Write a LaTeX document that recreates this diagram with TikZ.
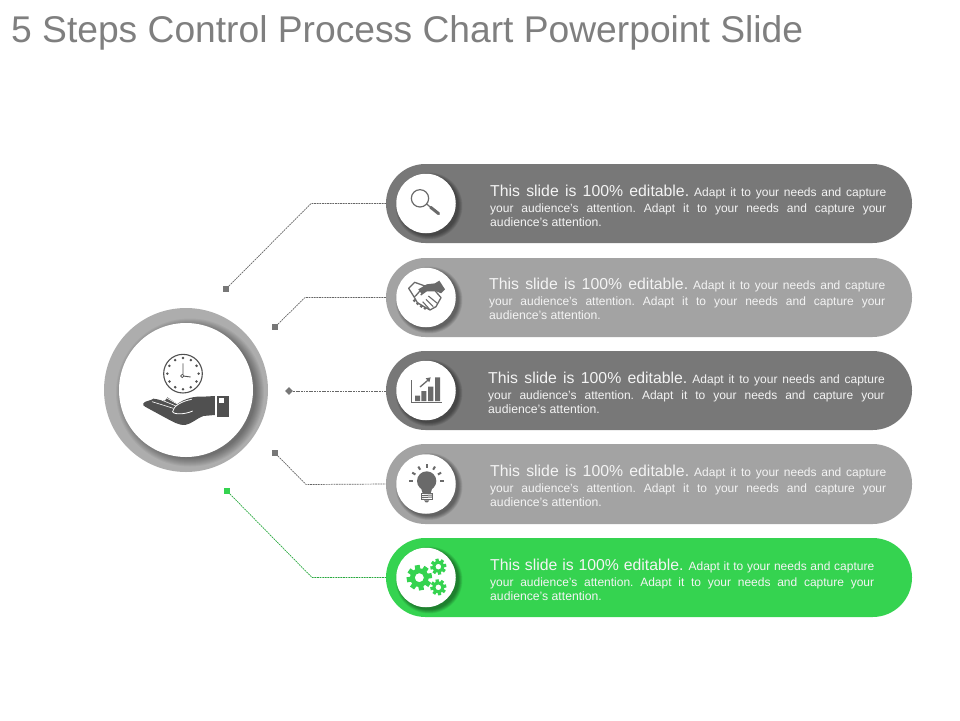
\documentclass[tikz,border=0pt]{standalone}
\usepackage{fontspec}
\setmainfont{Liberation Sans}
\usetikzlibrary{calc,shapes.geometric}
\definecolor{pilldark}{HTML}{787878}
\definecolor{pilllight}{HTML}{A3A3A3}
\definecolor{pillgreen}{HTML}{35D350}
\definecolor{hubicon}{HTML}{505050}
\definecolor{icongray}{HTML}{6A6A6A}
\definecolor{titlegray}{HTML}{7F7F7F}
\definecolor{ringgray}{HTML}{ADADAD}
\definecolor{linegray}{HTML}{666666}
\definecolor{markgray}{HTML}{777777}
\definecolor{textwhite}{HTML}{F4F4F4}
\tikzset{
  pill/.style={minimum width=526pt,minimum height=79pt,rounded corners=39.4pt,inner sep=0pt,outer sep=0pt},
  disc/.style={circle,fill=white,minimum size=59.5pt,inner sep=0pt,outer sep=0pt},
  marksq/.style={rectangle,fill=markgray,minimum size=5.5pt,inner sep=0pt},
  markdia/.style={diamond,fill=markgray,minimum size=8pt,inner sep=0pt},
  conn/.style={dash pattern=on 1.8pt off .8pt,line width=.7pt,draw=linegray},
  bodytext/.style={anchor=base west,inner sep=0pt,text=textwhite},
  zoomed/.style 2 args={shift={(#1,#2)},x=.3333pt,y=-.3333pt}
}
\newcommand{\slidelines}[1]{\vtop{\frenchspacing\baselineskip=14.5pt\hbox to #1{\fontsize{15.8}{16}\selectfont This slide is 100\% editable.\hskip 5pt\fontsize{12}{14}\selectfont Adapt it to your needs and capture}\kern1.2pt\hbox to #1{\fontsize{12}{14}\selectfont your audience's attention. Adapt it to your needs and capture your}\hbox{\fontsize{12.2}{14}\selectfont audience's attention.}}}
\newcommand{\discshadow}[2]{\foreach \rr in {33.5,33,32.5,32,31.5,31,30.5,30,29.5}{\fill[black,opacity=.05] (#1+3,#2+2.5) circle (\rr pt);}}
\newcommand{\gearicon}[4]{% x y outer-r teeth
  \fill[pillgreen,even odd rule] (#1,#2) circle (#3*0.74) (#1,#2) circle (#3*0.36);
  \foreach \a in {1,...,#4}{\fill[pillgreen,rotate around={\a*360/#4+10:(#1,#2)}] ($(#1,#2)+(-#3*0.2,-#3*1.0)$) rectangle ($(#1,#2)+(#3*0.2,-#3*0.6)$);}
}
\begin{document}
\begin{tikzpicture}[x=1pt,y=-1pt]
\useasboundingbox (0,0) rectangle (960,720);
\node[anchor=base west,inner sep=0pt,text=titlegray,font=\fontsize{37.2}{37}\selectfont] (title) at (11,42) {5 Steps Control Process Chart Powerpoint Slide};

% pills
\node[pill,fill=pilldark,anchor=center] (p1) at (649,203.5) {};
\node[pill,fill=pilllight,anchor=center] (p2) at (649,297.5) {};
\node[pill,fill=pilldark,anchor=center] (p3) at (649,390.5) {};
\node[pill,fill=pilllight,anchor=center,minimum height=80pt] (p4) at (649,484) {};
\node[pill,fill=pillgreen,anchor=center] (p5) at (649,577.5) {};

% discs
\discshadow{426}{203.5}\discshadow{426}{297.5}\discshadow{426}{390.5}\discshadow{426}{484}\discshadow{426}{577.5}
\node[disc] (d1) at (426,203.5) {};
\node[disc] (d2) at (426,297.5) {};
\node[disc] (d3) at (426,390.5) {};
\node[disc] (d4) at (426,484) {};
\node[disc] (d5) at (426,577.5) {};

% text
\node[bodytext] (t1) at (490,196.5) {\slidelines{396pt}};
\node[bodytext] (t2) at (489,289.5) {\slidelines{396pt}};
\node[bodytext] (t3) at (488,383.5) {\slidelines{396.5pt}};
\node[bodytext] (t4) at (490,476.5) {\slidelines{396pt}};
\node[bodytext] (t5) at (490,570.5) {\slidelines{384pt}};

% markers and connectors
\node[marksq] (m1) at (226,289) {};
\node[marksq] (m2) at (275,327) {};
\node[markdia] (m3) at (289,391) {};
\node[marksq] (m4) at (275,453) {};
\node[marksq,fill=pillgreen] (m5) at (227,491) {};
\coordinate (e1) at (311,203.5);
\coordinate (e2) at (305,297.5);
\coordinate (e4) at (306,484.5);
\coordinate (e5) at (312,577.5);
\draw[conn] (m1) -- (e1) -- (p1.west);
\draw[conn] (m2) -- (e2) -- (p2.west);
\draw[conn] (m3) -- (m3-|p3.west);
\draw[conn] (m4) -- (e4) -- (p4.west);
\draw[conn,draw=pillgreen!80!black] (m5) -- (e5) -- (p5.west);

% big circle
\node[circle,fill=ringgray,minimum size=164pt,inner sep=0pt,outer sep=0pt] (ring) at (186,390) {};
\begin{scope}
\clip (186,390) circle (82pt);
\foreach \rr in {74,73,72,71,70,69,68,67,66}{\fill[black,opacity=.045] (190,392.5) circle (\rr pt);}
\end{scope}
\node[circle,fill=white,minimum size=134pt,inner sep=0pt,outer sep=0pt] (hub) at (186,390) {};

% hub icon: clock and hand
\begin{scope}[zoomed={90}{280}]
\draw[hubicon,line width=1.1pt] (279,281) circle (58);
\foreach \a in {0,30,...,330}{\fill[hubicon] ($(279,281)+(\a:47)$) circle (1.4pt);}
\draw[hubicon,line width=.9pt] (279,250) -- (279,288) -- (302,291);
\draw[hubicon,line width=.7pt,fill=white] (277,288) circle (5);
\fill[hubicon] (160,370) .. controls (165,362) and (185,362) .. (190,356) -- (225,362) -- (232,352) -- (262,372)
  .. controls (285,355) and (315,348) .. (340,350) -- (375,348) -- (375,405) -- (340,408)
  .. controls (320,415) and (305,432) .. (285,435) .. controls (262,435) and (250,425) .. (235,418) -- (165,380) .. controls (160,377) and (158,374) .. (160,370) -- cycle;
\draw[white,line width=.6pt] (186,365) -- (250,385) (207,357) -- (258,378) (228,353) -- (262,372);
\draw[white,line width=.8pt] (305,358) .. controls (270,365) and (250,380) .. (248,395) .. controls (250,404) and (285,404) .. (308,393);
\fill[hubicon] (381,347) rectangle (418,412);
\fill[white] (388,355) rectangle (402,368);
\end{scope}

% magnifier
\begin{scope}[zoomed={380}{160}]
\draw[icongray,line width=1.2pt] (120,115) circle (26);
\draw[icongray,line width=3pt,line cap=round] (152,142) -- (176,161);
\draw[icongray,line width=1.2pt] (140,132) -- (152,142);
\end{scope}

% handshake
\begin{scope}[zoomed={380}{160}]
\draw[icongray,line width=1.3pt,line join=round] (86,385) -- (104,367) -- (135,378) -- (118,395) -- (103,412) -- cycle;
\fill[icongray] (115,388) -- (140,373) -- (165,370) -- (178,362) -- (195,388) -- (183,400) -- (165,392) -- (140,392) -- (125,402) -- cycle;
\draw[icongray,line width=1.3pt,line join=round,fill=white] (103,412) -- (112,428) -- (132,440) -- (150,450) -- (168,440) -- (183,413) -- (165,392) -- (140,392) -- (122,405);
\draw[icongray,line width=1.1pt] (145,408) -- (172,430) (138,418) -- (160,440) (128,425) -- (148,447);
\fill[icongray] (103,422) circle (5) (113,431) circle (5) (124,439) circle (5) (135,445) circle (5);
\end{scope}

% chart
\begin{scope}[zoomed={380}{345}]
\draw[icongray,line width=1pt] (95,105) -- (95,172) -- (186,172);
\fill[icongray] (105,152) rectangle (120,168) (124,138) rectangle (139,168) (144,125) rectangle (160,168) (165,97) rectangle (180,168);
\draw[icongray,line width=1.3pt] (120,126) -- (148,102);
\fill[icongray] (152,97) -- (148,112) -- (137,100) -- cycle;
\end{scope}

% bulb
\begin{scope}[zoomed={380}{345}]
\fill[icongray] (140,408) circle (29);
\fill[icongray] (122,425) -- (158,425) -- (152,445) -- (128,445) -- cycle;
\draw[icongray,line width=1pt] (124,447) rectangle (156,463);
\draw[icongray,line width=1pt] (124,452) -- (156,450) (124,458) -- (156,456);
\fill[icongray] (132,466) -- (148,466) -- (143,472) -- (137,472) -- cycle;
\foreach \a in {-90,-60,-120,-30,-150}{\draw[icongray,line width=2pt] ($(140,408)+(\a:39)$) -- ($(140,408)+(\a:50)$);}
\draw[icongray,line width=1.2pt] (88,408) -- (100,408) (180,408) -- (192,408);
\end{scope}

% gears
\begin{scope}[zoomed={380}{530}]
\gearicon{118}{143}{38}{8}
\gearicon{175}{110}{24}{8}
\gearicon{175}{172}{24}{8}
\end{scope}
\end{tikzpicture}
\end{document}
